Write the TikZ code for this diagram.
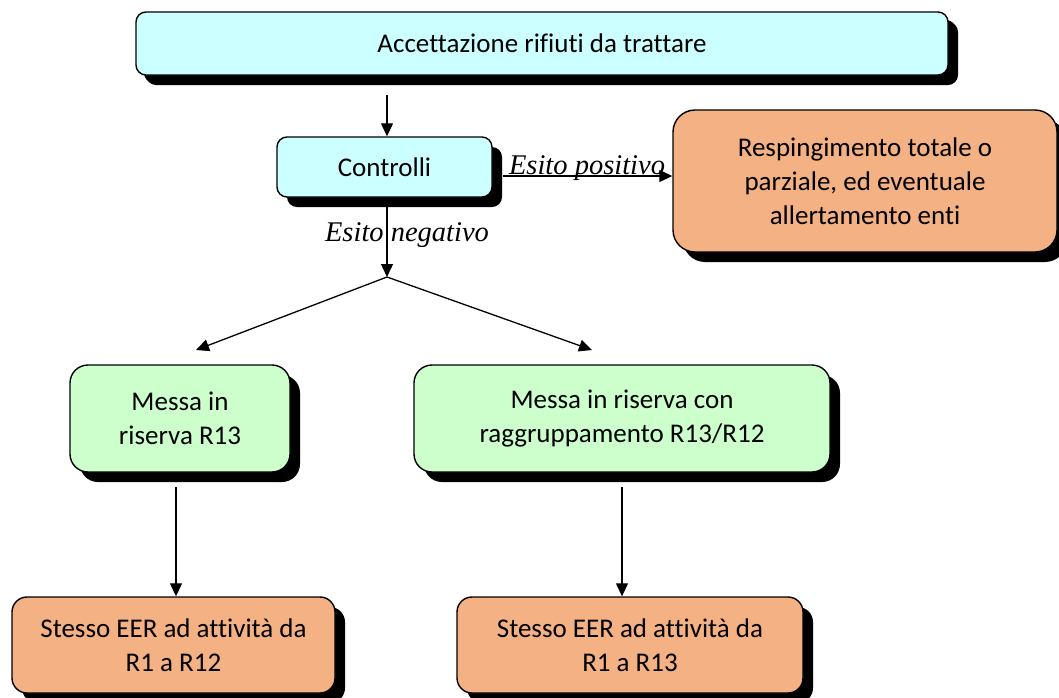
\documentclass[tikz,border=0pt]{standalone}
\usepackage{fontspec}
\setmainfont[Ligatures=CommonOff]{Carlito}
\newfontfamily\lbl{Liberation Serif}
\usetikzlibrary{arrows.meta,shadows}
\definecolor{cyanbox}{HTML}{CCFFFF}
\definecolor{greenbox}{HTML}{CCFFCC}
\definecolor{orangebox}{HTML}{F4B183}
\tikzset{
  box/.style={draw=black, line width=1.4pt, align=center, inner sep=0pt,
    font=\fontsize{27}{34}\selectfont,
    drop shadow={shadow xshift=10pt, shadow yshift=-10pt, opacity=1, fill=black}},
  conn/.style={line width=1.3pt, -{Triangle[length=13pt,width=12pt]}},
  lab/.style={font=\lbl\itshape\fontsize{28.5}{30}\selectfont, inner sep=0pt}
}
\begin{document}
\begin{tikzpicture}[x=1pt,y=-1pt]
\useasboundingbox (0,0) rectangle (1059,697);
\node[box, fill=cyanbox, rounded corners=10pt, minimum width=812pt, minimum height=63pt,
  drop shadow={shadow xshift=8pt, shadow yshift=-8pt, opacity=1, fill=black}] (top) at (542,43.5) {Accettazione rifiuti da trattare};
\node[box, fill=cyanbox, rounded corners=10pt, minimum width=215pt, minimum height=60pt] (ctrl) at (384.5,167) {Controlli};
\node[box, fill=orangebox, rounded corners=22pt, minimum width=384pt, minimum height=142pt] (resp) at (865,181) {Respingimento totale o\\parziale, ed eventuale\\allertamento enti};
\node[box, fill=greenbox, rounded corners=18pt, minimum width=220pt, minimum height=107pt] (g1) at (180,418.5) {Messa in\\riserva R13};
\node[box, fill=greenbox, rounded corners=18pt, minimum width=416pt, minimum height=107pt] (g2) at (622,418.5) {Messa in riserva con\\raggruppamento R13/R12};
\node[box, fill=orangebox, rounded corners=15pt, minimum width=323pt, minimum height=96pt] (o1) at (173.5,645) {Stesso EER ad attività da\\R1 a R12};
\node[box, fill=orangebox, rounded corners=15pt, minimum width=346pt, minimum height=96pt] (o2) at (630,645) {Stesso EER ad attività da\\R1 a R13};
\coordinate (t1) at (387,95);
\coordinate (c1) at (503,176);
\coordinate (c2) at (387,206);
\coordinate (split) at (387,277);
\coordinate (s1) at (196,350);
\coordinate (s2) at (592,350);
\coordinate (d1) at (176,487);
\coordinate (d2) at (622,487);
\draw[conn] (t1) -- (t1 |- ctrl.north);
\draw[conn] (c1) -- (c1 -| resp.west);
\draw[conn] (c2) -- (split);
\draw[conn] (split) -- (s1);
\draw[conn] (split) -- (s2);
\draw[conn] (d1) -- (d1 |- o1.north);
\draw[conn] (d2) -- (d2 |- o2.north);
\node[lab, anchor=base] (pos) at (587,174) {Esito positivo};
\node[lab, anchor=base] (neg) at (407,241) {Esito negativo};
\end{tikzpicture}
\end{document}
